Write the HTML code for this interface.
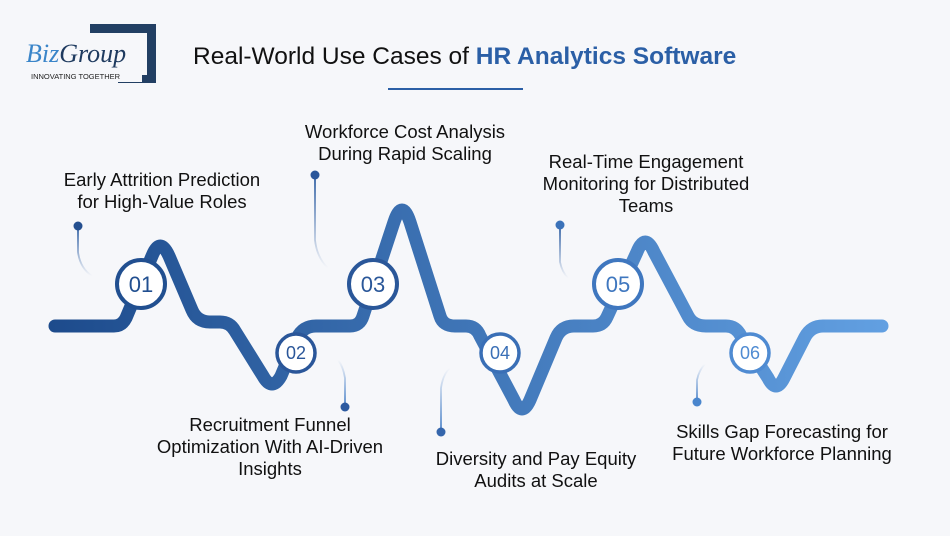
<!DOCTYPE html>
<html><head><meta charset="utf-8"><style>
body{margin:0;width:950px;height:531px;background:#f6f7fa;overflow:hidden;font-family:"Liberation Sans",sans-serif}
</style></head><body>
<svg width="950" height="531" viewBox="0 0 950 531" xmlns="http://www.w3.org/2000/svg">
<defs>
<linearGradient id="g" x1="50" y1="0" x2="890" y2="0" gradientUnits="userSpaceOnUse">
<stop offset="0" stop-color="#1d4b8c"/><stop offset="1" stop-color="#62a0e2"/>
</linearGradient>
<linearGradient id="fd" x1="0" y1="0" x2="0" y2="1"><stop offset="0" stop-color="#2f5fa3"/><stop offset="1" stop-color="#2f5fa3" stop-opacity="0"/></linearGradient>
<linearGradient id="fu" x1="0" y1="1" x2="0" y2="0"><stop offset="0" stop-color="#4b82c8"/><stop offset="1" stop-color="#4b82c8" stop-opacity="0"/></linearGradient>
</defs>
<!-- logo -->
<path d="M90 24 H156 V83 H118 V75 H147 V33 H90 Z" fill="#223f63"/>
<rect x="24" y="36" width="118" height="46" fill="#f6f7fa"/>
<text x="26" y="62" font-family="Liberation Serif,serif" font-style="italic" font-size="26" fill="#3a85c9">Biz<tspan fill="#1e3a5f">Group</tspan></text>
<text x="31" y="79" font-size="7.5" fill="#222">INNOVATING TOGETHER</text>
<!-- title -->
<text x="193" y="64" font-size="24.5" fill="#111">Real-World Use Cases of <tspan fill="#2b5fa6" font-weight="bold">HR Analytics Software</tspan></text>
<rect x="388" y="88" width="135" height="2" fill="#2b5fa6"/>
<!-- main path (rounded corners) -->
<path d="M55 326 H114 Q122 326 126 318 L152 256 Q160 236 169 256 L192 310 Q197 322 210 322 H220 Q230 322 235 331 L263 376 Q272 392 281 376 L297 338 Q303 326 316 326 H350 Q360 326 363 316 L394 222 Q402 198 410 222 L440 316 Q443 326 455 326 H466 Q476 326 480 336 L514 400 Q522 418 530 400 L556 338 Q561 326 574 326 H593 Q603 326 607 317 L637 252 Q645 232 654 252 L688 316 Q693 326 706 326 H726 Q736 326 741 336 L768 378 Q776 394 784 378 L805 337 Q811 326 823 326 H882" fill="none" stroke="url(#g)" stroke-width="13" stroke-linejoin="round" stroke-linecap="round"/>
<!-- leaders -->
<path d="M78 226 V252 Q80 268 92 276" stroke="url(#fd)" stroke-width="1.8" fill="none"/><circle cx="78" cy="226" r="4.5" fill="#244f8f"/>
<path d="M315 175 V240 Q317 258 328 268" stroke="url(#fd)" stroke-width="1.8" fill="none"/><circle cx="315" cy="175" r="4.5" fill="#2a569a"/>
<path d="M560 225 V262 Q562 272 568 278" stroke="url(#fd)" stroke-width="1.8" fill="none"/><circle cx="560" cy="225" r="4.5" fill="#3b72b9"/>
<path d="M345 407 V378 Q343 366 338 360" stroke="url(#fu)" stroke-width="1.8" fill="none"/><circle cx="345" cy="407" r="4.5" fill="#2c5aa0"/>
<path d="M441 432 V388 Q443 374 450 368" stroke="url(#fu)" stroke-width="1.8" fill="none"/><circle cx="441" cy="432" r="4.5" fill="#3566ac"/>
<path d="M697 402 V380 Q699 370 705 364" stroke="url(#fu)" stroke-width="1.8" fill="none"/><circle cx="697" cy="402" r="4.5" fill="#4a86cd"/>
<!-- circles -->
<g font-size="22" text-anchor="middle">
<circle cx="141" cy="284" r="24" fill="#fff" stroke="#214f90" stroke-width="4"/><text x="141" y="292" fill="#214f90">01</text>
<circle cx="373" cy="284" r="24" fill="#fff" stroke="#2a5799" stroke-width="4"/><text x="373" y="292" fill="#2a5799">03</text>
<circle cx="618" cy="284" r="24" fill="#fff" stroke="#3f77bf" stroke-width="4"/><text x="618" y="292" fill="#3f77bf">05</text>
</g>
<g font-size="18" text-anchor="middle">
<circle cx="296" cy="353" r="19" fill="#fff" stroke="#2a5699" stroke-width="3.5"/><text x="296" y="359" fill="#2a5699">02</text>
<circle cx="500" cy="353" r="19" fill="#fff" stroke="#3a6fb6" stroke-width="3.5"/><text x="500" y="359" fill="#3a6fb6">04</text>
<circle cx="750" cy="353" r="19" fill="#fff" stroke="#4f8bd2" stroke-width="3.5"/><text x="750" y="359" fill="#4f8bd2">06</text>
</g>
<!-- labels -->
<g font-size="18.5" fill="#111" text-anchor="middle">
<text x="162" y="186">Early Attrition Prediction</text><text x="162" y="208">for High-Value Roles</text>
<text x="405" y="138">Workforce Cost Analysis</text><text x="405" y="160">During Rapid Scaling</text>
<text x="646" y="168">Real-Time Engagement</text><text x="646" y="190">Monitoring for Distributed</text><text x="646" y="212">Teams</text>
<text x="270" y="431">Recruitment Funnel</text><text x="270" y="453">Optimization With AI-Driven</text><text x="270" y="475">Insights</text>
<text x="536" y="465">Diversity and Pay Equity</text><text x="536" y="487">Audits at Scale</text>
<text x="782" y="438">Skills Gap Forecasting for</text><text x="782" y="460">Future Workforce Planning</text>
</g>
</svg>
</body></html>
